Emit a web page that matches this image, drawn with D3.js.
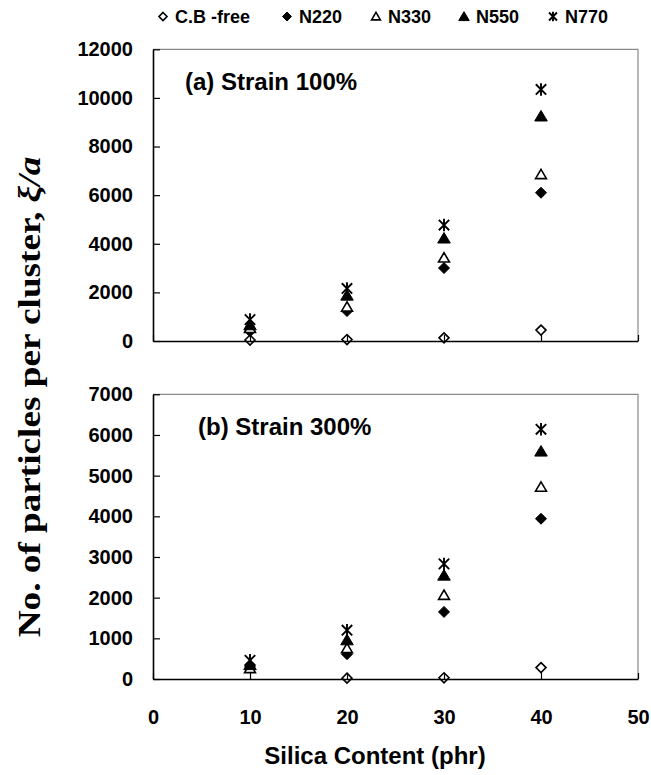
<!DOCTYPE html>
<html>
<head>
<meta charset="utf-8">
<script src="https://cdn.jsdelivr.net/npm/d3@7"></script>
<style>
  html, body { margin: 0; padding: 0; background: #fff; }
  svg { display: block; }
  text { font-family: "Liberation Sans", Arial, sans-serif; font-weight: bold; fill: #000; }
</style>
</head>
<body>
<svg id="chart" width="651" height="775"></svg>
<script>
// Silica loading (phr) at which each compound was measured
const silica = [10, 20, 30, 40];
const xTicks = [0, 10, 20, 30, 40, 50];

// Series names, in drawing order
const seriesNames = ["C.B -free", "N220", "N330", "N550", "N770"];

// (a) Strain 100% — particles per cluster
const cbFree100 = [40, 60, 130, 450];
const n220_100 = [400, 1230, 3000, 6100];
const n330_100 = [520, 1400, 3420, 6850];
const n550_100 = [660, 1880, 4230, 9250];
const n770_100 = [880, 2160, 4770, 10350];
const yTicks100 = [0, 2000, 4000, 6000, 8000, 10000, 12000];

// (b) Strain 300% — particles per cluster
const cbFree300 = [null, 20, 30, 280];
const n220_300 = [320, 610, 1650, 3940];
const n330_300 = [260, 750, 2060, 4720];
const n550_300 = [350, 960, 2550, 5600];
const n770_300 = [460, 1200, 2830, 6140];
const yTicks300 = [0, 1000, 2000, 3000, 4000, 5000, 6000, 7000];

const svg = d3.select("#chart");

const x = d3.scaleLinear().domain([0, 50]).range([153, 638]);

// marker shapes
const markerPath = {
  openDiamond: s => `M0,${-s}L${s},0L0,${s}L${-s},0Z`,
  diamond: s => `M0,${-s}L${s},0L0,${s}L${-s},0Z`,
  openTriangle: s => `M0,${-s}L${s * 1.05},${s * 0.8}L${-s * 1.05},${s * 0.8}Z`,
  triangle: s => `M0,${-s}L${s * 1.1},${s * 0.85}L${-s * 1.1},${s * 0.85}Z`,
  star: s => `M${-s},${-s}L${s},${s}M${-s},${s}L${s},${-s}M0,${-s * 1.2}L0,${s * 1.2}`
};
const markerStyle = {
  openDiamond: { fill: "#fff", stroke: "#000", sw: 1.6 },
  diamond: { fill: "#000", stroke: "#000", sw: 1 },
  openTriangle: { fill: "#fff", stroke: "#000", sw: 1.6 },
  triangle: { fill: "#000", stroke: "#000", sw: 1 },
  star: { fill: "none", stroke: "#000", sw: 1.9 }
};
const shapes = ["openDiamond", "diamond", "openTriangle", "triangle", "star"];
const plotSize = { openDiamond: 5, diamond: 5.5, openTriangle: 5.2, triangle: 5.7, star: 5.2 };
const legendSize = { openDiamond: 4, diamond: 4.5, openTriangle: 4.2, triangle: 4.8, star: 4 };

function drawMarker(g, shape, size, cx, cy) {
  const st = markerStyle[shape];
  g.append("path")
    .attr("d", markerPath[shape](size))
    .attr("transform", `translate(${cx},${cy})`)
    .attr("fill", st.fill)
    .attr("stroke", st.stroke)
    .attr("stroke-width", st.sw)
    .attr("stroke-linejoin", "miter");
}

function styleTickText(sel) {
  sel.attr("font-size", 20).attr("font-family", "Liberation Sans, Arial, sans-serif")
    .attr("font-weight", "bold").attr("fill", "#000");
}

function drawPanel(cfg) {
  const y = d3.scaleLinear().domain(cfg.yDomain).range(cfg.yRange);
  const g = svg.append("g");
  const [x0, x1] = x.range();
  const [yb, yt] = y.range();

  // frame: top and right in grey
  g.append("path")
    .attr("d", `M${x0},${yt}H${x1}V${yb}`)
    .attr("fill", "none").attr("stroke", "#8a8a8a").attr("stroke-width", 1.2);

  // data markers
  cfg.series.forEach((vals, i) => {
    const shape = shapes[i];
    vals.forEach((v, j) => {
      if (v == null) return;
      drawMarker(g, shape, plotSize[shape], x(silica[j]), y(v));
    });
  });

  // left axis, ticks pointing inward
  const yAxis = d3.axisLeft(y)
    .tickValues(cfg.yTicks)
    .tickSize(-7).tickSizeOuter(0).tickPadding(20)
    .tickFormat(d3.format("d"));
  const ga = g.append("g").attr("transform", `translate(${x0},0)`).call(yAxis);
  ga.select(".domain").attr("stroke", "#000").attr("stroke-width", 1.6);
  ga.selectAll(".tick line").attr("stroke", "#000").attr("stroke-width", 1.2);
  styleTickText(ga.selectAll(".tick text"));

  // bottom axis, ticks pointing inward
  const xAxis = d3.axisBottom(x)
    .tickValues(xTicks)
    .tickSize(-6).tickSizeOuter(0).tickPadding(31)
    .tickFormat(cfg.showX ? d3.format("d") : () => "");
  const gx = g.append("g").attr("transform", `translate(0,${yb})`).call(xAxis);
  gx.select(".domain").attr("stroke", "#000").attr("stroke-width", 1.6);
  gx.selectAll(".tick line").attr("stroke", "#000").attr("stroke-width", 1.2);
  styleTickText(gx.selectAll(".tick text"));

  // panel caption
  g.append("text")
    .attr("x", cfg.labelX).attr("y", cfg.labelY)
    .attr("dy", "0.35em")
    .attr("font-size", 24)
    .text(cfg.label);
}

drawPanel({
  yDomain: [0, 12000], yRange: [341, 49.3], yTicks: yTicks100,
  series: [cbFree100, n220_100, n330_100, n550_100, n770_100],
  label: "(a) Strain 100%", labelX: 185, labelY: 82, showX: false
});
drawPanel({
  yDomain: [0, 7000], yRange: [679, 394.3], yTicks: yTicks300,
  series: [cbFree300, n220_300, n330_300, n550_300, n770_300],
  label: "(b) Strain 300%", labelX: 198, labelY: 427, showX: true
});

// legend across the top
const legendX = [163, 287, 376, 464, 553];
const legend = svg.append("g");
seriesNames.forEach((name, i) => {
  const shape = shapes[i];
  drawMarker(legend, shape, legendSize[shape], legendX[i], 16.5);
  legend.append("text")
    .attr("x", legendX[i] + 12).attr("y", 16.5).attr("dy", "0.36em")
    .attr("font-size", 18)
    .text(name);
});

// axis titles
svg.append("text")
  .attr("x", 375).attr("y", 756).attr("dy", "0.35em")
  .attr("text-anchor", "middle").attr("font-size", 24)
  .text("Silica Content (phr)");

// y title: tall serif caption, stretched along its length
const yTitle = svg.append("text")
  .attr("transform", "translate(30,397) rotate(-90) scale(1.2,1)")
  .attr("text-anchor", "middle").attr("dy", "0.33em")
  .attr("font-size", 31)
  .style("font-family", "'Liberation Serif', 'Times New Roman', serif");
yTitle.append("tspan").text("No. of particles per cluster, ");
yTitle.append("tspan").attr("font-style", "italic").text("ξ/a");
</script>
</body>
</html>
